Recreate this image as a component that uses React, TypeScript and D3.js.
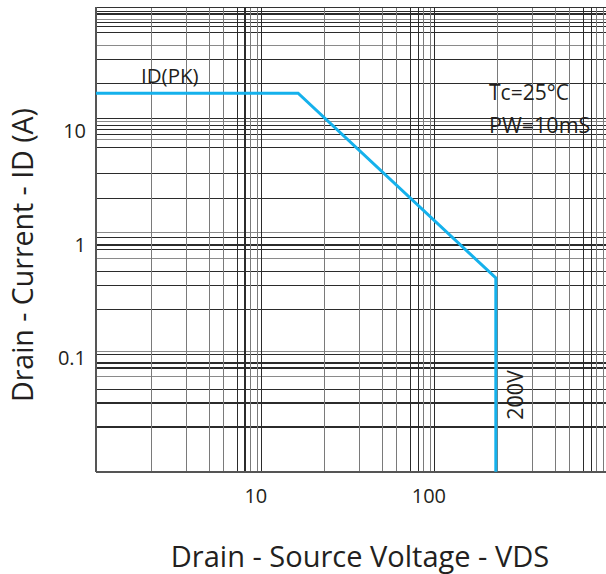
import React from "react";
import * as d3 from "d3";

// grid multipliers repeated in every decade of VDS
const xDecadeSteps = [2.3, 3.65, 5, 6, 7.2, 8, 8.6, 9.4, 10];
const xDecades = [1, 10, 100];
const xTicks = [10, 100];

// horizontal grid (ID, A) - the original grid is uneven
const yGridValues = [
  113.6, 108.4, 97.4, 90.9, 83.8, 74.2, 56.7, 43.3, 26.6,
  12.89, 12.2, 11.18, 10.31, 9.31, 8.42, 7.26, 4.22, 2.58,
  1.284, 1.169, 0.994, 0.904, 0.763, 0.582, 0.438, 0.271,
  0.1148, 0.1074, 0.0907, 0.082, 0.0691, 0.0528, 0.0403, 0.0248,
];
const yTicks = [10, 1, 0.1];
const yTickLabels = ["10", "1", "0.1"];

// safe operating area boundary
const soaVds = [1.1, 16.2, 225, 225];
const soaId = [21.7, 21.7, 0.51, 0.01];

const W = 606;
const H = 574;
const FONT = "'Open Sans', 'Noto Sans', sans-serif";

export default function App() {
  const left = 96, right = 606, top = 7.3, bottom = 471.7;

  const x = d3.scaleLog().domain([1.1, 975]).range([left, right]);
  const y = d3.scaleLog().domain([0.01, 124]).range([bottom, top]);

  const xGrid: { v: number; dark: boolean }[] = [];
  xDecades.forEach((d) => {
    xDecadeSteps.forEach((m, i) => {
      const v = d * m;
      if (v < 975) xGrid.push({ v, dark: i === 4 || i === 5 || i === 8 });
    });
  });

  const line = d3
    .line<number>()
    .x((d) => x(d))
    .y((d, i) => y(soaId[i]));

  return (
    <svg
      width={W}
      height={H}
      style={{ position: "absolute", left: 0, top: 0, background: "#fff" }}
    >
      <g shapeRendering="crispEdges">
        {yGridValues.map((v, i) => (
          <line
            key={"h" + i}
            x1={left}
            x2={right}
            y1={y(v)}
            y2={y(v)}
            stroke={i % 4 === 2 ? "#8a8a8a" : "#2b2b2b"}
            strokeWidth={1.2}
          />
        ))}
        {xGrid.map((g, i) => (
          <line
            key={"v" + i}
            x1={x(g.v)}
            x2={x(g.v)}
            y1={top}
            y2={bottom}
            stroke={g.dark ? "#2b2b2b" : "#7a7a7a"}
            strokeWidth={1.2}
          />
        ))}
        <line x1={left} x2={right} y1={top} y2={top} stroke="#333" strokeWidth={1.5} />
        <line x1={left} x2={left} y1={top} y2={bottom} stroke="#555" strokeWidth={2} />
        <line x1={left} x2={right} y1={bottom} y2={bottom} stroke="#555" strokeWidth={2} />
      </g>

      <path
        d={line(soaVds) || ""}
        fill="none"
        stroke="#15b1ec"
        strokeWidth={3}
        strokeLinejoin="miter"
      />

      <g fontFamily={FONT} fill="#231f20">
        {xTicks.map((t) => (
          <text key={"xt" + t} x={x(t) - 6} y={503} fontSize={20} textAnchor="middle">
            {t}
          </text>
        ))}
        {yTicks.map((t, i) => (
          <text
            key={"yt" + t}
            x={86}
            y={y(t)}
            dy="0.35em"
            fontSize={20}
            textAnchor="end"
          >
            {yTickLabels[i]}
          </text>
        ))}

        <text x={141} y={y(soaId[0]) - 10} fontSize={20.5}>
          ID(PK)
        </text>
        <text x={489} y={100} fontSize={21}>
          Tc=25°C
        </text>
        <text x={489} y={133} fontSize={21.5}>
          PW=10mS
        </text>
        <text
          transform={`translate(${x(soaVds[2]) + 27},395) rotate(-90)`}
          fontSize={21.5}
          textAnchor="middle"
        >
          200V
        </text>

        <text
          transform={`translate(33,255) rotate(-90)`}
          fontSize={28.5}
          textAnchor="middle"
        >
          Drain - Current - ID (A)
        </text>
        <text x={360} y={567} fontSize={29} textAnchor="middle">
          Drain - Source Voltage - VDS
        </text>
      </g>
    </svg>
  );
}
